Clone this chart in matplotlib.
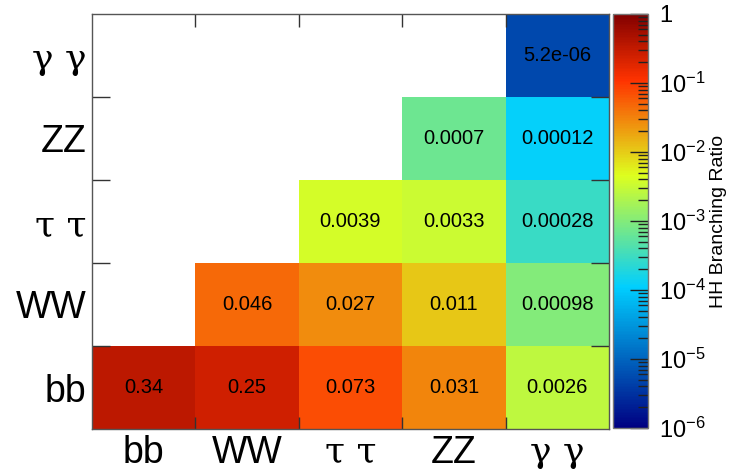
import numpy as np
import matplotlib.pyplot as plt
from matplotlib.colors import LinearSegmentedColormap, LogNorm

plt.rcParams["font.family"] = ["Liberation Sans", "DejaVu Sans"]
plt.rcParams["mathtext.fontset"] = "custom"
plt.rcParams["mathtext.rm"] = "Liberation Sans"
plt.rcParams["mathtext.it"] = "Liberation Sans"

# decay channels, same order on both axes (bottom->top, left->right)
channels = ["bb", "WW", "τ τ", "ZZ", "γ γ"]

# HH branching ratios, one row per y channel (nan = not filled)
row_bb = [0.34, 0.25, 0.073, 0.031, 0.0026]
row_ww = [np.nan, 0.046, 0.027, 0.011, 0.00098]
row_tautau = [np.nan, np.nan, 0.0039, 0.0033, 0.00028]
row_zz = [np.nan, np.nan, np.nan, 0.0007, 0.00012]
row_gg = [np.nan, np.nan, np.nan, np.nan, 5.2e-06]

cbar_ticks = [1e-6, 1e-5, 1e-4, 1e-3, 1e-2, 1e-1, 1]
cbar_labels = ["$10^{-6}$", "$10^{-5}$", "$10^{-4}$", "$10^{-3}$",
               "$10^{-2}$", "$10^{-1}$", "1"]

br = np.array([row_bb, row_ww, row_tautau, row_zz, row_gg])
br = np.ma.masked_invalid(br)

# ROOT-like rainbow gradient
stops = [0.00, 0.34, 0.61, 0.84, 1.00]
red = [0.00, 0.00, 0.87, 1.00, 0.51]
green = [0.00, 0.81, 1.00, 0.20, 0.00]
blue = [0.51, 1.00, 0.12, 0.00, 0.00]
cmap = LinearSegmentedColormap.from_list(
    "root_rainbow", list(zip(stops, zip(red, green, blue))), N=255)

fig = plt.figure(figsize=(7.29, 4.70), dpi=100)
ax = fig.add_axes([92/729, 41/470, 517/729, 415/470])
cax = fig.add_axes([613/729, 42/470, 35/729, 414/470])

n = len(channels)
edges = np.arange(n + 1)
mesh = ax.pcolormesh(edges, edges, br, cmap=cmap,
                     norm=LogNorm(vmin=1e-6, vmax=1))

for i in range(n):
    for j in range(n):
        if br.mask[i, j]:
            continue
        ax.text(j + 0.5, i + 0.5, "%.2g" % br[i, j], ha="center",
                va="center", fontsize=14.5, color="black")

ax.set_xlim(0, n)
ax.set_ylim(0, n)
centers = edges[:-1] + 0.5
ax.set_xticks(centers)
ax.set_yticks(centers)
ax.set_xticklabels(channels, fontsize=27)
ax.set_yticklabels(channels, fontsize=27)
for lab in ax.get_xticklabels() + ax.get_yticklabels():
    if lab.get_text() in ("τ τ", "γ γ"):
        lab.set_family("DejaVu Serif")
        lab.set_fontsize(26)
ax.set_xticks(edges[1:-1], minor=True)
ax.set_yticks(edges[1:-1], minor=True)
ax.tick_params(which="major", length=0, pad=4)
ax.tick_params(axis="x", which="minor", direction="in", length=9,
               top=True, bottom=True, width=1, color="#333333")
ax.tick_params(axis="y", which="minor", direction="in", length=13,
               left=True, right=True, width=1, color="#333333")
for sp in ax.spines.values():
    sp.set_color("#555555")
    sp.set_linewidth(1)

cb = fig.colorbar(mesh, cax=cax)
cb.set_ticks(cbar_ticks)
cb.set_ticklabels(cbar_labels)
cax.tick_params(which="major", direction="in", length=13, width=1,
                labelsize=17, pad=8, color="#222222")
cax.tick_params(which="minor", direction="in", length=7, width=1,
                color="#222222")
cb.outline.set_edgecolor("#777777")
cb.outline.set_linewidth(1)
cb.set_label("HH Branching Ratio", fontsize=14, labelpad=3)

fig.savefig("out.png", dpi=100)
